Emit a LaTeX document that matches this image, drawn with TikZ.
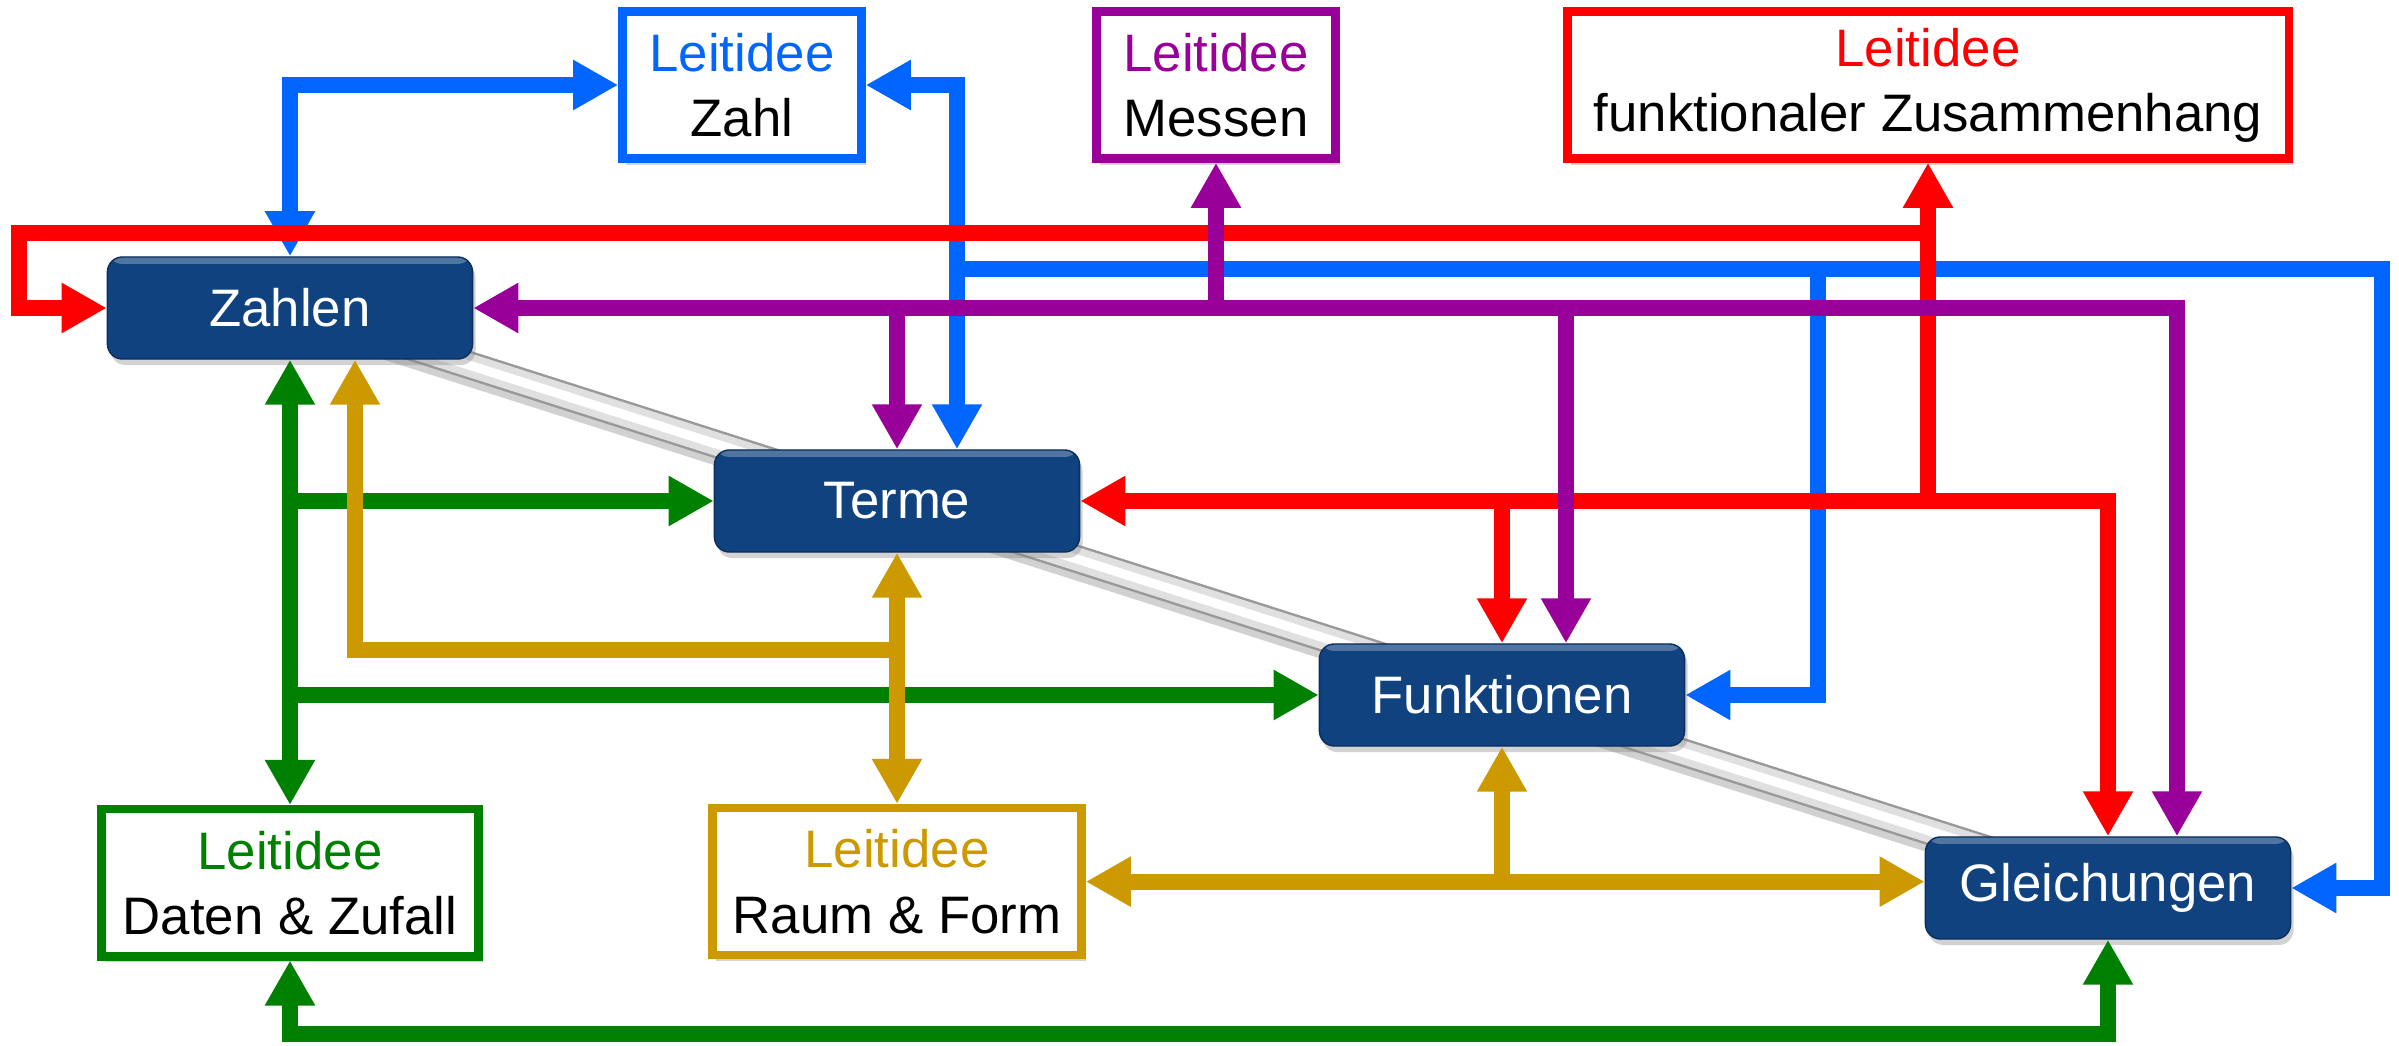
\documentclass[tikz,border=0pt]{standalone}
\usepackage{fontspec}
\setmainfont{Liberation Sans}
\usetikzlibrary{positioning,calc,arrows.meta,shadows}

\definecolor{knotblau}{RGB}{16,66,128}
\definecolor{zblau}{RGB}{0,102,255}
\definecolor{mlila}{RGB}{153,0,153}
\definecolor{frot}{RGB}{255,0,0}
\definecolor{dgruen}{RGB}{0,128,0}
\definecolor{rgold}{RGB}{204,153,0}

\pgfdeclarelayer{background}
\pgfsetlayers{background,main}

\newcommand{\leitzeile}[2]{\textcolor{#1}{Leitidee}\\#2}

\tikzset{
  inhalt/.style={draw=knotblau!70!black, fill=knotblau, rounded corners=0.15cm,
    minimum width=3.65cm, minimum height=1.02cm, text=white,
    font=\fontsize{15}{18}\selectfont,
    drop shadow={shadow xshift=0.03cm,shadow yshift=-0.06cm,opacity=0.35},
    path picture={\fill[knotblau!55!white,opacity=0.6] (path picture bounding box.north west) rectangle ([yshift=-0.07cm]path picture bounding box.north east);}},
  leit/.style={draw=#1, fill=white, line width=2.4pt, minimum height=1.47cm,
    align=center, font=\fontsize{15}{18.5}\selectfont,
    drop shadow={shadow xshift=0.04cm,shadow yshift=-0.06cm,opacity=0.35}},
  linie/.style={line width=4.5pt},
  blau/.style={linie, draw=zblau},
  rot/.style={linie, draw=frot},
  lila/.style={linie, draw=mlila},
  gruen/.style={linie, draw=dgruen},
  gold/.style={linie, draw=rgold},
}

\begin{document}
\begin{tikzpicture}[x=0.01cm,y=-0.01cm,>={Triangle[length=12.8pt,width=13.4pt]}]
	\useasboundingbox (0,0) rectangle (2399,1046);

	% Inhaltsbereiche
	\node[inhalt] (zahlen) at (290,308) {Zahlen};
	\node[inhalt] (terme) at (897,501) {Terme};
	\node[inhalt] (funk) at (1502,695) {Funktionen};
	\node[inhalt] (gleich) at (2108,888) {Gleichungen};

	% Leitideen
	\node[leit=zblau, minimum width=2.39cm] (zahl) at (742,85) {\leitzeile{zblau}{Zahl}};
	\node[leit=mlila, minimum width=2.39cm] (messen) at (1216,85) {\leitzeile{mlila}{Messen}};
	\node[leit=frot, minimum width=7.21cm] (fkt) at (1928,85) {\leitzeile{frot}{funktionaler Zusammenhang}};
	\node[leit=dgruen, minimum width=3.77cm, below=4.45cm of zahlen] (daten) {\leitzeile{dgruen}{Daten \& Zufall}};
	\node[leit=rgold, minimum width=3.69cm, below=2.51cm of terme] (raum) {\leitzeile{rgold}{Raum \& Form}};

	% Rohr hinter den Knoten
	\begin{pgfonlayer}{background}
		\draw[line width=8pt, black!18, transform canvas={yshift=-0.07cm}] (zahlen.center) -- (gleich.center);
		\draw[line width=8pt, black!40] (zahlen.center) -- (gleich.center);
		\draw[line width=6.6pt, black!12] (zahlen.center) -- (gleich.center);
		\draw[line width=2.6pt, white] (zahlen.center) -- (gleich.center);
	\end{pgfonlayer}

	% blau
	\coordinate (bz) at ($(terme.north)+(60,0)$);
	\coordinate (bo) at (957,269);
	\coordinate (bf) at (1818,269);
	\coordinate (br) at (2382,269);
	\draw[blau,<->] (zahl.west) -| (zahlen.north);
	\draw[blau,<->] (zahl.east) -| (bz);
	\draw[blau,->] (bo) -- (br) |- (gleich.east);
	\draw[blau,->] (bf) |- (funk.east);

	% rot
	\coordinate (ro) at (1928,233);
	\coordinate (rl) at (19,233);
	\draw[rot,->] (terme.east -| fkt.south) -- (fkt.south);
	\draw[rot,->] (ro) -- (rl) |- (zahlen.west);
	\draw[rot,<->] (terme.east) -| (gleich.north);
	\draw[rot,->] (funk.north |- terme.east) -- (funk.north);

	% lila
	\coordinate (pg) at ($(gleich.north)+(69,0)$);
	\coordinate (pf) at ($(funk.north)+(64,0)$);
	\draw[lila,<->] (zahlen.east) -| (pg);
	\draw[lila,->] (messen.south |- zahlen.east) -- (messen.south);
	\draw[lila,->] (terme.north |- zahlen.east) -- (terme.north);
	\draw[lila,->] (pf |- zahlen.east) -- (pf);

	% gruen
	\coordinate (gu) at (290,1034);
	\draw[gruen,<->] (zahlen.south) -- (daten.north);
	\draw[gruen,->] (zahlen.south |- terme.west) -- (terme.west);
	\draw[gruen,->] (zahlen.south |- funk.west) -- (funk.west);
	\draw[gruen,<->] (daten.south) -- (gu) -| (gleich.south);

	% gold
	\coordinate (gz) at ($(zahlen.south)+(65,0)$);
	\coordinate (gk) at (897,650);
	\draw[gold,->] (gk) -| (gz);
	\draw[gold,<->] (terme.south) -- (raum.north);
	\draw[gold,<->] (raum.east) -- (raum.east -| gleich.west);
	\draw[gold,->] (funk.south |- raum.east) -- (funk.south);
\end{tikzpicture}
\end{document}
